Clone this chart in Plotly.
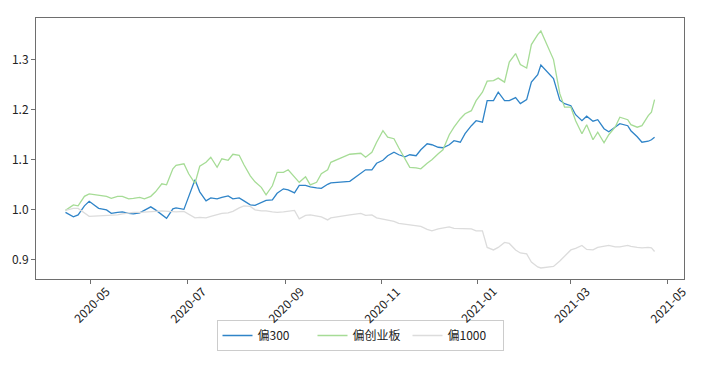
import plotly.graph_objects as go

dates = [
    "2020-04-15", "2020-04-20", "2020-04-23", "2020-04-27", "2020-04-30",
    "2020-05-06", "2020-05-11", "2020-05-14", "2020-05-18", "2020-05-21",
    "2020-05-25", "2020-05-28", "2020-06-01", "2020-06-04", "2020-06-08",
    "2020-06-11", "2020-06-15", "2020-06-18", "2020-06-22", "2020-06-24",
    "2020-06-29", "2020-07-02", "2020-07-06", "2020-07-09", "2020-07-13",
    "2020-07-16", "2020-07-20", "2020-07-23", "2020-07-27", "2020-07-30",
    "2020-08-03", "2020-08-06", "2020-08-10", "2020-08-13", "2020-08-17",
    "2020-08-20", "2020-08-24", "2020-08-27", "2020-08-31", "2020-09-03",
    "2020-09-07", "2020-09-10", "2020-09-14", "2020-09-17", "2020-09-21",
    "2020-09-24", "2020-09-28", "2020-09-30", "2020-10-12", "2020-10-15",
    "2020-10-19", "2020-10-22", "2020-10-26", "2020-10-29", "2020-11-02",
    "2020-11-05", "2020-11-09", "2020-11-12", "2020-11-16", "2020-11-19",
    "2020-11-23", "2020-11-26", "2020-11-30", "2020-12-03", "2020-12-07",
    "2020-12-10", "2020-12-14", "2020-12-17", "2020-12-21", "2020-12-24",
    "2020-12-28", "2020-12-31", "2021-01-04", "2021-01-07", "2021-01-11",
    "2021-01-14", "2021-01-18", "2021-01-21", "2021-01-25", "2021-01-28",
    "2021-02-01", "2021-02-04", "2021-02-08", "2021-02-10", "2021-02-18",
    "2021-02-22", "2021-02-25", "2021-03-01", "2021-03-04", "2021-03-08",
    "2021-03-11", "2021-03-15", "2021-03-18", "2021-03-22", "2021-03-25",
    "2021-03-29", "2021-04-01", "2021-04-06", "2021-04-08", "2021-04-12",
    "2021-04-15", "2021-04-19", "2021-04-21", "2021-04-23",
]

pian300 = [
    0.995, 0.986, 0.990, 1.008, 1.017, 1.003, 1.000, 0.993, 0.995, 0.996,
    0.993, 0.992, 0.994, 0.999, 1.006, 1.000, 0.990, 0.983, 1.002, 1.004,
    1.001, 1.026, 1.060, 1.036, 1.018, 1.024, 1.022, 1.025, 1.028, 1.022,
    1.024, 1.018, 1.010, 1.009, 1.014, 1.019, 1.020, 1.033, 1.042, 1.040,
    1.034, 1.049, 1.049, 1.046, 1.044, 1.043, 1.051, 1.054, 1.057, 1.064,
    1.072, 1.080, 1.080, 1.093, 1.099, 1.108, 1.115, 1.110, 1.106, 1.110,
    1.108, 1.120, 1.132, 1.130, 1.125, 1.124, 1.130, 1.138, 1.135, 1.152,
    1.168, 1.178, 1.175, 1.218, 1.218, 1.235, 1.218, 1.218, 1.224, 1.212,
    1.220, 1.255, 1.270, 1.289, 1.262, 1.219, 1.212, 1.208, 1.190, 1.178,
    1.187, 1.177, 1.180, 1.162, 1.156, 1.165, 1.172, 1.168, 1.158, 1.146,
    1.135, 1.137, 1.140, 1.145,
]

pian_cyb = [
    0.999, 1.010, 1.008, 1.027, 1.032, 1.029, 1.027, 1.023, 1.027, 1.027,
    1.022, 1.023, 1.025, 1.022, 1.027, 1.036, 1.052, 1.050, 1.082, 1.089,
    1.092, 1.072, 1.053, 1.087, 1.095, 1.105, 1.085, 1.102, 1.099, 1.111,
    1.109, 1.090, 1.068, 1.056, 1.045, 1.030, 1.048, 1.075, 1.075, 1.080,
    1.065, 1.055, 1.066, 1.050, 1.055, 1.072, 1.080, 1.095, 1.111, 1.112,
    1.113, 1.105, 1.115, 1.135, 1.158, 1.145, 1.142, 1.124, 1.102, 1.085,
    1.084, 1.082, 1.093, 1.100, 1.112, 1.120, 1.150, 1.165, 1.182, 1.192,
    1.198, 1.218, 1.235, 1.257, 1.258, 1.263, 1.255, 1.295, 1.312, 1.290,
    1.283, 1.330, 1.350, 1.357, 1.300, 1.232, 1.205, 1.205, 1.178, 1.152,
    1.170, 1.140, 1.155, 1.134, 1.150, 1.165, 1.185, 1.180, 1.170, 1.165,
    1.168, 1.188, 1.195, 1.220,
]

pian1000 = [
    0.999, 1.003, 1.003, 0.993, 0.987, 0.988, 0.989, 0.989, 0.990, 0.992,
    0.994, 0.995, 0.995, 0.996, 0.996, 0.997, 0.998, 0.997, 0.996, 0.996,
    0.997, 0.991, 0.984, 0.985, 0.984, 0.987, 0.990, 0.993, 0.994, 0.997,
    1.004, 1.008, 1.007, 1.000, 0.998, 0.998, 0.996, 0.995, 0.996, 0.997,
    0.999, 0.982, 0.989, 0.990, 0.988, 0.986, 0.980, 0.984, 0.990, 0.991,
    0.993, 0.989, 0.990, 0.984, 0.981, 0.980, 0.977, 0.973, 0.971, 0.970,
    0.967, 0.967, 0.961, 0.958, 0.962, 0.964, 0.966, 0.963, 0.963, 0.962,
    0.962, 0.958, 0.958, 0.925, 0.920, 0.925, 0.935, 0.933, 0.920, 0.914,
    0.912, 0.896, 0.886, 0.884, 0.887, 0.898, 0.908, 0.920, 0.923, 0.929,
    0.921, 0.920, 0.925, 0.927, 0.929, 0.926, 0.926, 0.929, 0.927, 0.925,
    0.924, 0.925, 0.924, 0.917,
]

series_names = ["偏300", "偏创业板", "偏1000"]
series_colors = ["#2f84c8", "#a6dc96", "#dcdcdc"]

x_tick_vals = ["2020-05-01", "2020-07-01", "2020-09-01", "2020-11-01",
               "2021-01-01", "2021-03-01", "2021-05-01"]
x_tick_text = ["2020-05", "2020-07", "2020-09", "2020-11",
               "2021-01", "2021-03", "2021-05"]
y_tick_vals = [0.9, 1.0, 1.1, 1.2, 1.3]
y_tick_text = ["0.9", "1.0", "1.1", "1.2", "1.3"]

FONT = "Noto Sans CJK SC"
AXIS_COLOR = "#6e6e6e"

fig = go.Figure()
for name, vals, col in zip(series_names, [pian300, pian_cyb, pian1000], series_colors):
    fig.add_trace(go.Scatter(x=dates, y=vals, mode="lines", name=name,
                             line=dict(color=col, width=1.3)))

for tv, tt in zip(x_tick_vals, x_tick_text):
    fig.add_annotation(x=tv, y=-0.096, xref="x", yref="paper", text=tt,
                       textangle=-45, showarrow=False, xanchor="center",
                       yanchor="middle", font=dict(family=FONT, size=12, color="#222"))

# page body has an 8px default margin, so the figure is 712x366 and offset by 8px
fig.update_layout(
    width=712, height=366,
    margin=dict(l=28, r=36, t=10, b=95, autoexpand=False),
    paper_bgcolor="white", plot_bgcolor="white",
    font=dict(family=FONT, size=12, color="#222"),
    showlegend=True,
    legend=dict(orientation="h", x=0.5, xanchor="center", y=-0.157, yanchor="top",
                bordercolor="#cccccc", borderwidth=1, bgcolor="white",
                font=dict(family=FONT, size=12, color="#222"),
                itemwidth=30, entrywidth=50, entrywidthmode="pixels"),
    xaxis=dict(type="date", range=["2020-03-27 08:00", "2021-05-11 15:00"],
               tickvals=x_tick_vals, showticklabels=False, automargin=False,
               ticks="outside", ticklen=4, tickcolor=AXIS_COLOR,
               showline=True, linecolor=AXIS_COLOR, linewidth=1, mirror=True,
               showgrid=False, zeroline=False),
    yaxis=dict(range=[0.862, 1.383], tickvals=y_tick_vals, ticktext=y_tick_text,
               automargin=False,
               ticks="outside", ticklen=4, tickcolor=AXIS_COLOR,
               showline=True, linecolor=AXIS_COLOR, linewidth=1, mirror=True,
               showgrid=False, zeroline=False,
               tickfont=dict(family=FONT, size=12, color="#222")),
)

fig.write_html("out.html")
